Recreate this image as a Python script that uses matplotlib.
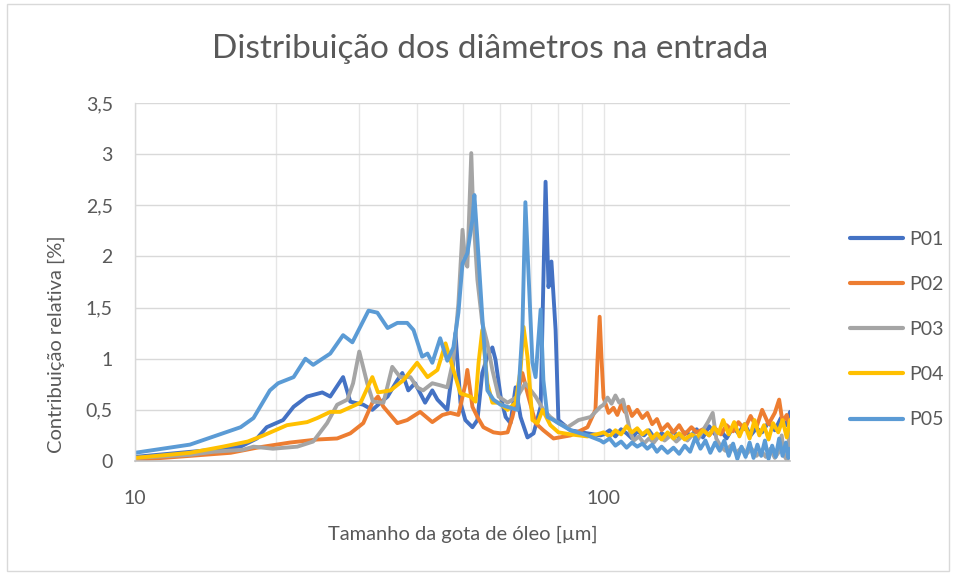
import matplotlib
matplotlib.use("Agg")
import matplotlib.pyplot as plt
from matplotlib.ticker import FixedLocator, NullFormatter, FixedFormatter
from matplotlib.patches import Rectangle

plt.rcParams['font.family'] = ['Lato', 'DejaVu Sans']

TITLE = "Distribuição dos diâmetros na entrada"
XLABEL = "Tamanho da gota de óleo [µm]"
YLABEL = "Contribuição relativa [%]"
SERIES = ["P01", "P02", "P03", "P04", "P05"]
COLORS = ["#4472C4", "#ED7D31", "#A5A5A5", "#FFC000", "#5B9BD5"]

# droplet size [µm] and relative contribution [%] for each sample
p01_x = [10.0, 14.7, 16.8, 18.2, 19.1, 20.7, 21.8, 23.3, 25.1, 26.1, 27.8, 28.8, 30.7, 32.1,
         34.6, 36.3, 37.2, 38.3, 39.6, 41.6, 43.1, 44.2, 46.4, 47.6, 48.3, 49.5, 50.7, 52.5,
         53.8, 55.1, 56.5, 57.9, 58.8, 60.3, 61.8, 63.3, 64.9, 66.5, 68.8, 70.9, 73.4, 75.2,
         76.3, 77.4, 79.0, 80.1, 85.0, 92.4, 98.5,
         100, 103, 106, 109, 112, 115, 118, 122, 125, 129, 133, 137, 141, 145, 149, 154, 158,
         163, 168, 173, 178, 183, 189, 194, 200, 206, 212, 218, 225, 232, 239, 246, 250]
p01_y = [0.04, 0.11, 0.14, 0.22, 0.33, 0.40, 0.53, 0.63, 0.67, 0.63, 0.82, 0.58, 0.55, 0.50,
         0.63, 0.79, 0.86, 0.69, 0.76, 0.57, 0.69, 0.60, 0.50, 0.90, 1.25, 0.57, 0.40, 0.33,
         0.40, 0.86, 1.02, 1.11, 0.99, 0.63, 0.43, 0.37, 0.72, 0.43, 0.23, 0.27, 0.53, 2.73,
         1.70, 1.95, 1.28, 0.40, 0.30, 0.27, 0.25,
         0.26, 0.30, 0.24, 0.31, 0.27, 0.22, 0.29, 0.25, 0.30, 0.21, 0.27, 0.24, 0.29, 0.22, 0.28, 0.25, 0.31,
         0.23, 0.34, 0.26, 0.30, 0.22, 0.33, 0.27, 0.36, 0.25, 0.32, 0.28, 0.38, 0.30, 0.42, 0.35, 0.48]

p02_x = [10.0, 13.1, 16.0, 18.2, 21.4, 24.5, 27.0, 28.8, 30.7, 32.1, 33.0, 33.9, 36.3, 38.1,
         40.6, 43.1, 45.3, 47.1, 49.0, 50.7, 51.2, 52.5, 53.8, 55.4, 58.2, 60.3, 62.4, 63.9,
         67.1, 69.1, 71.6, 74.4, 78.2, 85.0, 92.4, 96.1, 97.1, 98.1, 99.0, 100.0,
         102.5, 105, 107, 109, 111, 113, 115, 118, 121, 124, 127, 130, 133, 137, 141, 145, 149,
         154, 158, 163, 168, 173, 178, 183, 189, 194, 200, 206, 212, 218, 225, 232, 237, 241,
         246, 250]
p02_y = [0.01, 0.05, 0.08, 0.13, 0.18, 0.21, 0.22, 0.27, 0.37, 0.57, 0.63, 0.53, 0.37, 0.40,
         0.48, 0.38, 0.45, 0.47, 0.45, 0.75, 0.89, 0.53, 0.43, 0.33, 0.28, 0.27, 0.28, 0.43,
         0.86, 0.63, 0.37, 0.30, 0.22, 0.25, 0.33, 0.50, 1.00, 1.41, 1.00, 0.62,
         0.47, 0.52, 0.45, 0.55, 0.48, 0.53, 0.44, 0.50, 0.42, 0.47, 0.36, 0.41, 0.30, 0.36, 0.28, 0.35, 0.26,
         0.33, 0.28, 0.31, 0.25, 0.32, 0.26, 0.35, 0.29, 0.38, 0.31, 0.44, 0.33, 0.50, 0.36, 0.47, 0.60, 0.38,
         0.45, 0.33]

p03_x = [10.0, 13.1, 14.7, 17.0, 17.9, 19.7, 22.2, 24.0, 25.7, 27.0, 28.4, 29.2, 30.1, 31.3,
         32.2, 33.9, 35.4, 36.8, 38.7, 40.0, 41.2, 43.1, 44.8, 46.4, 47.8, 49.0, 50.0, 50.7,
         51.2, 52.2, 52.7, 53.8, 55.1, 56.5, 57.9, 59.7, 62.4, 65.5, 68.1, 71.6, 74.4, 77.0,
         80.1, 83.8, 88.4, 93.8, 98.5,
         100, 102, 104, 106, 108, 110, 112, 114, 116, 119, 122, 125, 128, 131, 135, 139, 143,
         147, 151, 155, 159, 163, 167, 171, 174, 178, 182, 187, 192, 197, 202, 207, 212, 217,
         222, 227, 232, 236, 240, 243, 247, 250]
p03_y = [0.03, 0.06, 0.09, 0.11, 0.14, 0.12, 0.14, 0.19, 0.37, 0.55, 0.60, 0.76, 1.07, 0.76,
         0.58, 0.57, 0.92, 0.82, 0.82, 0.72, 0.69, 0.76, 0.74, 0.72, 0.99, 1.54, 2.26, 1.94,
         1.90, 3.01, 2.42, 1.77, 1.35, 1.15, 0.89, 0.63, 0.57, 0.63, 0.76, 0.63, 0.50, 0.43,
         0.37, 0.33, 0.40, 0.43, 0.53,
         0.55, 0.62, 0.56, 0.64, 0.57, 0.60, 0.45, 0.28, 0.20, 0.24, 0.17, 0.22, 0.18, 0.24, 0.20, 0.25, 0.19,
         0.24, 0.20, 0.26, 0.21, 0.30, 0.38, 0.47, 0.22, 0.14, 0.10, 0.15, 0.08, 0.13, 0.07, 0.12, 0.05, 0.10,
         0.04, 0.12, 0.03, 0.08, 0.25, 0.05, 0.00, 0.40]

p04_x = [10.0, 13.1, 15.4, 17.4, 18.8, 21.1, 23.3, 24.5, 26.1, 27.4, 30.3, 32.1, 33.0, 35.1,
         37.4, 40.0, 42.1, 44.2, 46.0, 47.6, 49.5, 52.0, 53.3, 54.1, 55.1, 56.5, 57.9, 59.7,
         62.4, 64.9, 66.5, 67.5, 68.8, 70.5, 72.3, 74.1, 77.0, 80.1, 85.0, 92.4, 98.5,
         100, 103, 106, 109, 112, 115, 118, 121, 124, 127, 130, 133, 137, 141, 145, 149, 154,
         158, 163, 168, 172, 176, 180, 185, 190, 195, 200, 205, 210, 215, 220, 225, 230, 236,
         241, 246, 250]
p04_y = [0.03, 0.08, 0.14, 0.19, 0.25, 0.35, 0.38, 0.42, 0.48, 0.48, 0.57, 0.82, 0.67, 0.69,
         0.79, 0.96, 0.82, 0.89, 1.15, 0.92, 0.66, 0.63, 0.58, 0.96, 1.28, 0.76, 0.57, 0.57,
         0.50, 0.57, 0.89, 1.31, 1.02, 0.40, 0.37, 0.50, 0.35, 0.28, 0.26, 0.24, 0.27,
         0.28, 0.24, 0.30, 0.26, 0.34, 0.28, 0.32, 0.26, 0.30, 0.22, 0.27, 0.21, 0.28, 0.22, 0.27, 0.21, 0.26,
         0.23, 0.30, 0.25, 0.33, 0.27, 0.40, 0.26, 0.38, 0.24, 0.36, 0.22, 0.40, 0.25, 0.35, 0.21, 0.37, 0.28,
         0.40, 0.23, 0.40]

p05_x = [10.0, 13.1, 16.8, 17.9, 19.4, 20.2, 21.8, 23.1, 24.0, 26.1, 27.8, 29.1, 31.5, 32.9,
         34.6, 36.3, 38.1, 39.3, 41.0, 42.1, 43.1, 44.8, 46.4, 47.8, 49.0, 50.0, 51.2, 52.5,
         53.0, 53.8, 55.1, 56.5, 58.2, 60.3, 63.3, 65.5, 67.1, 68.1, 69.1, 70.5, 71.6, 73.4,
         74.4, 75.9, 78.2, 80.1, 85.0, 92.4, 98.5,
         100, 103, 106, 109, 112, 115, 118, 121, 124, 127, 130, 133, 137, 141, 145, 149, 153,
         157, 161, 165, 169, 173, 177, 181, 185, 189, 193, 197, 201, 205, 209, 213, 217, 221,
         225, 229, 233, 237, 241, 245, 248, 250]
p05_y = [0.08, 0.16, 0.33, 0.42, 0.69, 0.76, 0.82, 1.00, 0.94, 1.05, 1.23, 1.16, 1.47, 1.45,
         1.30, 1.35, 1.35, 1.28, 1.02, 1.05, 0.96, 1.20, 0.98, 1.11, 1.45, 1.93, 2.03, 2.36,
         2.60, 2.16, 1.41, 0.69, 0.60, 0.55, 0.52, 0.50, 1.28, 2.53, 1.87, 0.96, 0.82, 1.48,
         0.79, 0.43, 0.40, 0.37, 0.30, 0.25, 0.20,
         0.18, 0.22, 0.15, 0.19, 0.13, 0.18, 0.14, 0.17, 0.12, 0.16, 0.09, 0.14, 0.08, 0.13, 0.07, 0.15, 0.09,
         0.23, 0.12, 0.20, 0.08, 0.18, 0.10, 0.20, 0.05, 0.17, 0.02, 0.14, 0.04, 0.18, 0.03, 0.16, 0.05, 0.20,
         0.02, 0.15, 0.04, 0.22, 0.05, 0.18, 0.03, 0.12]

xs = [p01_x, p02_x, p03_x, p04_x, p05_x]
ys = [p01_y, p02_y, p03_y, p04_y, p05_y]

TEXT = "#595959"
GRID = "#D9D9D9"
VGRID = "#E6E6E6"

fig = plt.figure(figsize=(9.57, 5.75), dpi=100)
ax = fig.add_axes([0.1411, 0.1983, 0.6844, 0.6226])

for x, y, c, name in zip(xs, ys, COLORS, SERIES):
    ax.plot(x, y, color=c, lw=2.8, label=name, solid_joinstyle="round",
            solid_capstyle="round")

ax.set_xscale("log")
ax.set_xlim(10, 250)
ax.set_ylim(0, 3.5)

ax.xaxis.set_major_locator(FixedLocator([10, 100]))
ax.xaxis.set_major_formatter(FixedFormatter(["10", "100"]))
ax.xaxis.set_minor_locator(FixedLocator([20, 30, 40, 50, 60, 70, 80, 90, 200]))
ax.xaxis.set_minor_formatter(NullFormatter())
yticks = [0, 0.5, 1, 1.5, 2, 2.5, 3, 3.5]
ax.set_yticks(yticks)
ax.set_yticklabels(["0", "0,5", "1", "1,5", "2", "2,5", "3", "3,5"])

ax.grid(True, which="both", axis="x", color=VGRID, lw=1.0)
ax.grid(True, which="major", axis="y", color=GRID, lw=1.0)
ax.set_axisbelow(True)

for s in ["top", "right"]:
    ax.spines[s].set_visible(False)
ax.spines["bottom"].set_color("#BFBFBF")
ax.spines["bottom"].set_linewidth(1.2)
ax.spines["left"].set_color(GRID)
ax.spines["left"].set_linewidth(1.0)

ax.tick_params(axis="both", which="both", length=0, labelsize=14, colors=TEXT)
ax.tick_params(axis="x", pad=21)
ax.tick_params(axis="y", pad=16)

ax.set_xlabel(XLABEL, fontsize=14.5, color=TEXT, labelpad=13)
ax.set_ylabel(YLABEL, fontsize=14.5, color=TEXT)
ax.yaxis.set_label_coords(-0.107, 0.325)

fig.text(0.512, 0.915, TITLE, ha="center", va="center", fontsize=24, color=TEXT)

leg = fig.legend(loc="center left", bbox_to_anchor=(0.870, 0.427), frameon=False,
                 fontsize=14, handlelength=2.7, handletextpad=0.35, labelspacing=1.45,
                 labelcolor=TEXT)
for line in leg.get_lines():
    line.set_linewidth(3.0)

fig.patches.append(Rectangle((7 / 957, 4 / 575), 942 / 957, 567 / 575,
                             transform=fig.transFigure, fill=False,
                             edgecolor="#D9D9D9", lw=1.0))

fig.savefig("out.png", dpi=100)
